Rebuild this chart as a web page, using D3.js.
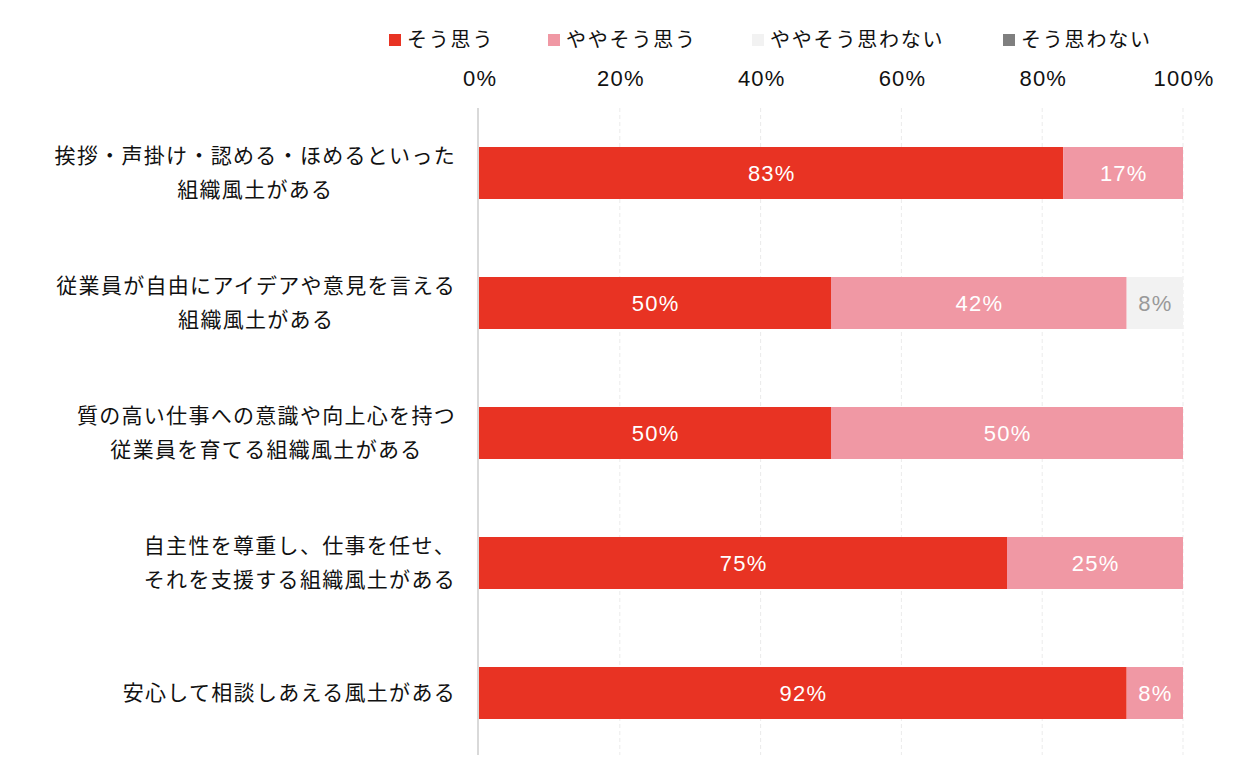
<!DOCTYPE html>
<html>
<head>
<meta charset="utf-8">
<script src="https://cdn.jsdelivr.net/npm/d3@7"></script>
<style>
  body { margin: 0; background: #fff; }
  svg text { font-family: "Noto Sans CJK JP", "Noto Sans", sans-serif; }
  svg text.num { font-family: "Liberation Sans", Arial, sans-serif; }
</style>
</head>
<body>
<div id="chart"></div>
<script>
// データ
const categories = [
  ["挨拶・声掛け・認める・ほめるといった", "組織風土がある"],
  ["従業員が自由にアイデアや意見を言える", "組織風土がある"],
  ["質の高い仕事への意識や向上心を持つ", "従業員を育てる組織風土がある"],
  ["自主性を尊重し、仕事を任せ、", "それを支援する組織風土がある"],
  ["安心して相談しあえる風土がある"]
];
const seriesNames = ["そう思う", "ややそう思う", "ややそう思わない", "そう思わない"];
const seriesColors = ["#e83323", "#f098a4", "#f2f2f2", "#7f7f7f"];
const labelColors = ["#ffffff", "#ffffff", "#999999", "#ffffff"];
const values = [
  [83, 17, 0, 0],
  [50, 42, 8, 0],
  [50, 50, 0, 0],
  [75, 25, 0, 0],
  [92, 8, 0, 0]
];
const ticks = [0, 20, 40, 60, 80, 100];

const W = 1258, H = 762;
const plotLeft = 479, plotRight = 1183, plotTop = 108, plotBottom = 758;

const svg = d3.select("#chart").append("svg")
  .attr("width", W)
  .attr("height", H);

const x = d3.scaleLinear().domain([0, 100]).range([plotLeft, plotRight]);
const y = d3.scaleBand()
  .domain(d3.range(categories.length))
  .range([plotTop, plotBottom])
  .paddingInner(0.6)
  .paddingOuter(0.3);

// グリッド線
svg.append("g")
  .selectAll("line")
  .data(ticks.slice(1))
  .enter()
  .append("line")
  .attr("x1", d => x(d)).attr("x2", d => x(d))
  .attr("y1", plotTop).attr("y2", 755)
  .attr("stroke", "#ebebeb")
  .attr("stroke-width", 1)
  .attr("stroke-dasharray", "4,3");

// 上部の目盛り
const axis = svg.append("g")
  .attr("transform", `translate(0, 86)`)
  .call(d3.axisTop(x).tickValues(ticks).tickFormat(d => d + "%").tickSize(0).tickPadding(0));
axis.select(".domain").remove();
axis.selectAll("text")
  .attr("class", "num")
  .attr("dx", "0.6px")
  .style("font-size", "22px")
  .style("letter-spacing", "1.2px")
  .style("fill", "#111");

// 積み上げ
const stacked = d3.stack().keys(d3.range(seriesNames.length))(values);

const rows = svg.append("g");
stacked.forEach((layer, si) => {
  const g = rows.append("g");
  g.selectAll("rect")
    .data(layer)
    .enter()
    .append("rect")
    .attr("x", d => x(d[0]))
    .attr("y", (d, i) => y(i))
    .attr("width", d => x(d[1]) - x(d[0]))
    .attr("height", y.bandwidth())
    .attr("fill", seriesColors[si]);

  g.selectAll("text")
    .data(layer.map((d, i) => ({ d, i })).filter(o => o.d[1] - o.d[0] > 0))
    .enter()
    .append("text")
    .attr("class", "num")
    .attr("x", o => x((o.d[0] + o.d[1]) / 2) + 0.6)
    .attr("y", o => y(o.i) + y.bandwidth() / 2)
    .attr("dy", "0.36em")
    .attr("text-anchor", "middle")
    .style("font-size", "22px")
    .style("letter-spacing", "1.2px")
    .style("fill", labelColors[si])
    .text(o => (o.d[1] - o.d[0]) + "%");
});

// 縦軸線
svg.append("line")
  .attr("x1", 478).attr("x2", 478)
  .attr("y1", plotTop).attr("y2", 755)
  .attr("stroke", "#d9d9d9")
  .attr("stroke-width", 2);

// カテゴリラベル
const labelRight = 456;
const lineH = 34;
categories.forEach((lines, i) => {
  const cy = y(i) + y.bandwidth() / 2;
  const g = svg.append("g");
  const texts = lines.map((s, j) => g.append("text")
    .attr("y", cy + (j - (lines.length - 1) / 2) * lineH)
    .attr("dy", "0.35em")
    .attr("text-anchor", "middle")
    .style("font-size", "21px")
    .style("letter-spacing", "1.3px")
    .style("fill", "#111")
    .text(s));
  const maxW = d3.max(texts, t => t.node().getComputedTextLength());
  texts.forEach(t => t.attr("x", labelRight - maxW / 2));
});

// 凡例
const legendX = [389, 548, 752, 1003];
const legend = svg.append("g");
seriesNames.forEach((name, i) => {
  legend.append("rect")
    .attr("x", legendX[i]).attr("y", 34)
    .attr("width", 12).attr("height", 12)
    .attr("fill", seriesColors[i]);
  legend.append("text")
    .attr("x", legendX[i] + 18)
    .attr("y", 40)
    .attr("dy", "0.35em")
    .style("font-size", "20px")
    .style("letter-spacing", "1.8px")
    .style("fill", "#111")
    .text(name);
});
</script>
</body>
</html>
